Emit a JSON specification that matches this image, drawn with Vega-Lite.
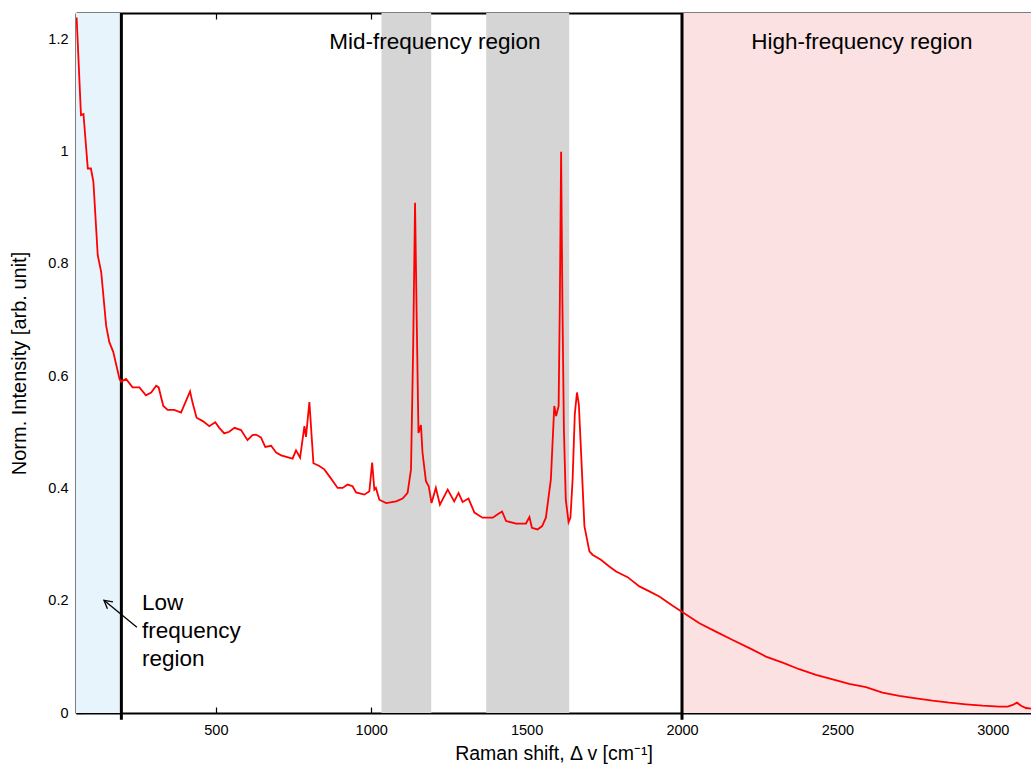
{
  "$schema": "https://vega.github.io/schema/vega-lite/v6.json",
  "width": 955,
  "height": 700,
  "autosize": {"type": "none"},
  "padding": {"left": 76, "top": 13, "right": 0, "bottom": 54},
  "background": "white",
  "config": {
    "view": {"stroke": null},
    "font": "Liberation Sans",
    "axis": {
      "domainColor": "black", "domainWidth": 2, "tickColor": "black", "tickWidth": 1.2,
      "tickSize": -6, "labelFont": "Liberation Sans", "labelFontSize": 14.5, "labelColor": "black",
      "grid": false, "titleFont": "Liberation Sans", "titleFontSize": 20, "titleFontWeight": "normal",
      "titleColor": "black"
    }
  },
  "datasets": {
    "spectrum": [
      {"x": 52, "y": 1.239}, {"x": 66, "y": 1.065}, {"x": 74, "y": 1.067}, {"x": 88, "y": 0.97},
      {"x": 98, "y": 0.97}, {"x": 106, "y": 0.946}, {"x": 120, "y": 0.815}, {"x": 131, "y": 0.786},
      {"x": 147, "y": 0.69}, {"x": 157, "y": 0.661}, {"x": 170, "y": 0.643}, {"x": 190, "y": 0.595},
      {"x": 195, "y": 0.59}, {"x": 211, "y": 0.595}, {"x": 232, "y": 0.58}, {"x": 254, "y": 0.58},
      {"x": 275, "y": 0.566}, {"x": 292, "y": 0.571}, {"x": 308, "y": 0.583}, {"x": 316, "y": 0.58},
      {"x": 331, "y": 0.547}, {"x": 345, "y": 0.54}, {"x": 366, "y": 0.54}, {"x": 388, "y": 0.535},
      {"x": 404, "y": 0.556}, {"x": 417, "y": 0.573}, {"x": 425, "y": 0.553}, {"x": 438, "y": 0.526},
      {"x": 458, "y": 0.52}, {"x": 479, "y": 0.511}, {"x": 498, "y": 0.518}, {"x": 511, "y": 0.508},
      {"x": 527, "y": 0.498}, {"x": 543, "y": 0.501}, {"x": 560, "y": 0.508}, {"x": 581, "y": 0.504},
      {"x": 602, "y": 0.486}, {"x": 618, "y": 0.495}, {"x": 629, "y": 0.496}, {"x": 645, "y": 0.491},
      {"x": 659, "y": 0.474}, {"x": 678, "y": 0.476}, {"x": 694, "y": 0.464}, {"x": 710, "y": 0.459},
      {"x": 747, "y": 0.453}, {"x": 758, "y": 0.468}, {"x": 771, "y": 0.455}, {"x": 785, "y": 0.511},
      {"x": 790, "y": 0.492}, {"x": 801, "y": 0.554}, {"x": 814, "y": 0.445}, {"x": 833, "y": 0.44},
      {"x": 849, "y": 0.434}, {"x": 865, "y": 0.422}, {"x": 892, "y": 0.401}, {"x": 908, "y": 0.401},
      {"x": 924, "y": 0.407}, {"x": 940, "y": 0.404}, {"x": 951, "y": 0.393}, {"x": 978, "y": 0.389},
      {"x": 994, "y": 0.395}, {"x": 1003, "y": 0.446}, {"x": 1010, "y": 0.398}, {"x": 1015, "y": 0.401},
      {"x": 1026, "y": 0.38}, {"x": 1048, "y": 0.374}, {"x": 1080, "y": 0.377}, {"x": 1101, "y": 0.382},
      {"x": 1117, "y": 0.392}, {"x": 1128, "y": 0.434}, {"x": 1135, "y": 0.654}, {"x": 1141, "y": 0.909},
      {"x": 1146, "y": 0.714}, {"x": 1152, "y": 0.499}, {"x": 1160, "y": 0.513}, {"x": 1165, "y": 0.464},
      {"x": 1176, "y": 0.413}, {"x": 1185, "y": 0.404}, {"x": 1194, "y": 0.374}, {"x": 1208, "y": 0.401},
      {"x": 1221, "y": 0.371}, {"x": 1246, "y": 0.398}, {"x": 1267, "y": 0.377}, {"x": 1281, "y": 0.392},
      {"x": 1294, "y": 0.376}, {"x": 1313, "y": 0.382}, {"x": 1332, "y": 0.357}, {"x": 1358, "y": 0.348},
      {"x": 1391, "y": 0.348}, {"x": 1407, "y": 0.354}, {"x": 1421, "y": 0.359}, {"x": 1434, "y": 0.342},
      {"x": 1466, "y": 0.3375}, {"x": 1498, "y": 0.3375}, {"x": 1509, "y": 0.349}, {"x": 1517, "y": 0.33},
      {"x": 1535, "y": 0.327}, {"x": 1550, "y": 0.333}, {"x": 1562, "y": 0.348}, {"x": 1578, "y": 0.416},
      {"x": 1589, "y": 0.547}, {"x": 1595, "y": 0.529}, {"x": 1603, "y": 0.547}, {"x": 1607, "y": 0.738},
      {"x": 1611, "y": 1.0}, {"x": 1615, "y": 0.738}, {"x": 1620, "y": 0.505}, {"x": 1626, "y": 0.38},
      {"x": 1635, "y": 0.34}, {"x": 1641, "y": 0.348}, {"x": 1648, "y": 0.416}, {"x": 1655, "y": 0.532},
      {"x": 1662, "y": 0.571}, {"x": 1668, "y": 0.55}, {"x": 1674, "y": 0.479}, {"x": 1686, "y": 0.333},
      {"x": 1702, "y": 0.288}, {"x": 1712, "y": 0.282}, {"x": 1739, "y": 0.273}, {"x": 1766, "y": 0.261},
      {"x": 1788, "y": 0.252}, {"x": 1825, "y": 0.242}, {"x": 1863, "y": 0.2255}, {"x": 1895, "y": 0.2166},
      {"x": 1927, "y": 0.2077}, {"x": 1970, "y": 0.191}, {"x": 2002, "y": 0.1795}, {"x": 2056, "y": 0.16},
      {"x": 2109, "y": 0.145}, {"x": 2163, "y": 0.13}, {"x": 2217, "y": 0.1155}, {"x": 2270, "y": 0.1005},
      {"x": 2324, "y": 0.0898}, {"x": 2377, "y": 0.078}, {"x": 2431, "y": 0.0679}, {"x": 2485, "y": 0.06},
      {"x": 2538, "y": 0.0518}, {"x": 2592, "y": 0.0459}, {"x": 2645, "y": 0.0363}, {"x": 2699, "y": 0.0304},
      {"x": 2753, "y": 0.0262}, {"x": 2806, "y": 0.022}, {"x": 2860, "y": 0.0184}, {"x": 2914, "y": 0.0155},
      {"x": 2967, "y": 0.013}, {"x": 3021, "y": 0.0113}, {"x": 3048, "y": 0.0113}, {"x": 3064, "y": 0.0143},
      {"x": 3078, "y": 0.0184}, {"x": 3091, "y": 0.013}, {"x": 3107, "y": 0.0089}, {"x": 3123, "y": 0.0077}
    ],
    "regions": [
      {"start": 50, "end": 195, "kind": "low"},
      {"start": 1033, "end": 1193, "kind": "mid"},
      {"start": 1370, "end": 1637, "kind": "mid"},
      {"start": 2000, "end": 3123, "kind": "high"}
    ],
    "borders": [{"x": 196}, {"x": 2000}],
    "labels": [
      {"x": 1205, "y": 1.195, "text": "Mid-frequency region"},
      {"x": 2579, "y": 1.195, "text": "High-frequency region"}
    ],
    "lowlabel": [{"x": 262, "y": 0.1954, "text": ["Low", "frequency", "region"]}],
    "arrow": [{"x": 246, "y": 0.1527, "x2": 140, "y2": 0.2007}]
  },
  "resolve": {"axis": {"x": "independent", "y": "independent"}},
  "layer": [
    {
      "data": {"name": "regions"},
      "mark": {"type": "rect", "clip": true},
      "encoding": {
        "x": {"field": "start", "type": "quantitative", "scale": {"domain": [50, 3123], "nice": false, "zero": false},
          "axis": {"orient": "top", "values": [500, 1000, 1500, 2000, 2500, 3000], "labels": false, "title": null}},
        "x2": {"field": "end"},
        "color": {"field": "kind", "type": "nominal",
          "scale": {"domain": ["low", "mid", "high"], "range": ["#e8f4fc", "#d5d5d5", "#fbe1e2"]}, "legend": null}
      }
    },
    {
      "data": {"name": "borders"},
      "mark": {"type": "rule", "color": "black", "strokeWidth": 3},
      "encoding": {
        "x": {"field": "x", "type": "quantitative", "axis": null},
        "y": {"datum": -0.012, "type": "quantitative", "axis": null},
        "y2": {"datum": 1.247}
      }
    },
    {
      "data": {"name": "spectrum"},
      "mark": {"type": "line", "color": "#ff0000", "strokeWidth": 1.8, "clip": true},
      "encoding": {
        "x": {"field": "x", "type": "quantitative",
          "axis": {"orient": "bottom", "values": [500, 1000, 1500, 2000, 2500, 3000], "format": "d", "labelPadding": 16,
            "title": "Raman shift, Δ v [cm⁻¹]", "titlePadding": 8, "titleFontSize": 19.5}},
        "y": {"field": "y", "type": "quantitative", "scale": {"domain": [0, 1.247], "nice": false},
          "axis": {"orient": "left", "values": [0, 0.2, 0.4, 0.6, 0.8, 1, 1.2], "format": "~g",
            "labelPadding": 14, "title": "Norm. Intensity [arb. unit]", "titlePadding": 18}}
      }
    },
    {
      "data": {"name": "labels"},
      "mark": {"type": "text", "fontSize": 22.5, "font": "Liberation Sans", "color": "black", "baseline": "middle", "align": "center"},
      "encoding": {
        "x": {"field": "x", "type": "quantitative", "axis": null},
        "y": {"field": "y", "type": "quantitative", "axis": null},
        "text": {"field": "text"}
      }
    },
    {
      "data": {"name": "lowlabel"},
      "mark": {"type": "text", "fontSize": 22.5, "font": "Liberation Sans", "color": "black", "baseline": "middle", "align": "left", "lineHeight": 28},
      "encoding": {
        "x": {"field": "x", "type": "quantitative", "axis": null},
        "y": {"field": "y", "type": "quantitative", "axis": null},
        "text": {"field": "text"}
      }
    },
    {
      "data": {"name": "arrow"},
      "mark": {"type": "rule", "color": "black", "strokeWidth": 1.3},
      "encoding": {
        "x": {"field": "x", "type": "quantitative", "axis": null},
        "y": {"field": "y", "type": "quantitative", "axis": null},
        "x2": {"field": "x2"},
        "y2": {"field": "y2"}
      }
    },
    {
      "data": {"name": "arrow"},
      "mark": {"type": "point", "shape": "M -0.55 1 L 0 0 L 0.55 1", "filled": false, "stroke": "black", "strokeWidth": 1.3, "size": 256, "angle": 309, "opacity": 1},
      "encoding": {
        "x": {"field": "x2", "type": "quantitative", "axis": null},
        "y": {"field": "y2", "type": "quantitative", "axis": null}
      }
    }
  ]
}
